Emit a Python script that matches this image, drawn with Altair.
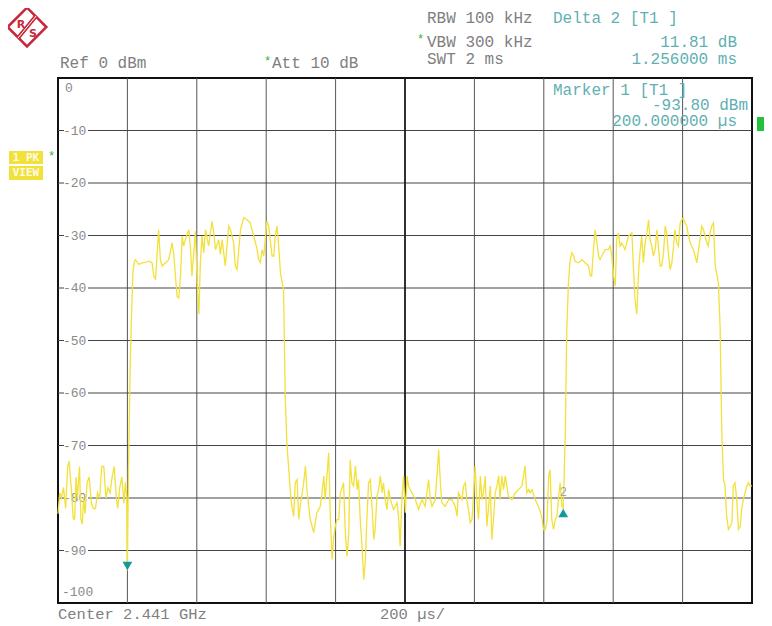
import altair as alt
import pandas as pd

# ---------------- data ----------------
time_us = [
    0, 5, 10, 16, 22, 28, 32, 38, 44, 48, 52, 56, 62, 66, 70, 74, 78, 84, 90, 96,
    102, 108, 114, 120, 126, 132, 138, 144, 150, 156, 162, 168, 172, 178, 184, 190, 194, 198, 200,
    203, 208, 212, 216, 220,
    223, 233, 242, 252, 262, 271, 276, 281, 290, 295, 300, 310, 319, 329, 334, 343, 348, 353, 358, 362,
    367, 377, 382, 386, 396, 401, 406, 410, 415, 420, 425, 434, 444, 449, 454, 463, 468, 473, 482, 492,
    497, 506, 511, 516, 521, 526, 535, 545, 554, 564, 574, 578, 583, 588, 593, 598, 602, 607, 617, 622,
    626, 631, 636, 641, 646, 650, 655, 660, 670, 674, 679, 684, 689, 694, 698, 708, 713, 718, 727, 737,
    746, 756, 761, 766, 770, 775, 780, 785, 790, 794, 799, 804, 809, 814, 823, 828, 833, 838, 842, 847,
    852, 857, 862, 866, 871, 876, 881, 886, 890, 895, 900, 905, 910, 914, 919, 924, 929, 934, 938, 943,
    948, 953, 958, 967, 977, 982, 986, 991, 996,
    1001, 1006, 1010, 1020, 1030, 1039, 1049, 1058, 1068, 1073, 1078, 1087, 1092, 1097, 1102, 1106, 1116,
    1126, 1135, 1145, 1150, 1154, 1164, 1169, 1174, 1178, 1183, 1188, 1193, 1198, 1202, 1207, 1212, 1217,
    1222, 1226, 1231, 1236, 1241, 1246, 1250, 1255, 1260, 1265, 1270, 1274, 1279, 1284, 1289, 1298, 1308,
    1318, 1327, 1337, 1346, 1351, 1356, 1361, 1366, 1375, 1385, 1394, 1399, 1404, 1409, 1414, 1418, 1423,
    1428, 1433, 1438, 1442, 1447, 1452, 1456,
    1462, 1466, 1471, 1476, 1481, 1486,
    1490, 1500, 1510, 1519, 1529, 1534, 1538, 1543, 1548, 1553, 1558, 1562, 1567, 1577, 1586, 1591, 1596,
    1601, 1606, 1610, 1615, 1620, 1625, 1634, 1644, 1654, 1658, 1663, 1668, 1673, 1678, 1682, 1687, 1692,
    1697, 1702, 1706, 1711, 1716, 1721, 1726, 1730, 1735, 1740, 1745, 1750, 1754, 1759, 1764, 1769, 1774,
    1778, 1783, 1788, 1793, 1798, 1802, 1807, 1812, 1817, 1822, 1826, 1831, 1836, 1841, 1846, 1850, 1855,
    1860, 1865, 1870, 1874, 1879, 1884, 1889, 1894, 1898, 1903, 1908, 1913, 1918, 1922, 1927, 1932, 1937,
    1942, 1946, 1951, 1956, 1961, 1966, 1970, 1975, 1980, 1985, 1990, 1994, 2000,
]
level_dbm = [
    -83, -79, -80, -78, -82, -74, -73, -78, -84, -84, -76, -80, -74, -84, -85, -80, -83, -77, -76, -81,
    -82, -82, -79, -80, -74, -74, -80, -78, -79, -76, -74, -80, -82, -78, -76, -81, -77, -80, -93.8,
    -75, -55, -45, -37, -35,
    -34.6, -35.5, -35.2, -35.1, -34.9, -35.2, -37.7, -38.4, -28.9, -34.6, -35.8, -35.2, -34.6, -31.4, -33.9, -41.6, -41.9, -37.7, -30.1, -32.0,
    -30.8, -28.9, -32.7, -37.7, -29.2, -39.0, -45.0, -35.8, -30.1, -33.3, -28.9, -32.0, -27.3, -29.5, -32.7, -30.8, -33.6, -30.8, -35.8, -28.2,
    -28.9, -31.4, -35.8, -36.5, -32.7, -28.9, -26.6, -27.0, -27.6, -30.1, -32.7, -34.6, -35.2, -32.7, -33.9, -30.1, -27.3, -28.2, -33.9, -33.9,
    -30.1, -28.2, -32.0, -37.1, -39.0, -40.3, -61.2, -70.1, -79.0, -81.6, -83.5, -77.1, -76.5, -84.1, -81.6, -77.1, -73.9, -79.0, -84.1, -86.6,
    -82.8, -81.6, -79.0, -75.8, -80.3, -75.8, -71.4, -84.1, -91.7, -87.9, -85.4, -84.1, -84.1, -79.0, -77.1, -86.6, -91.1, -86.6, -72.7, -77.1,
    -77.7, -73.9, -78.4, -76.5, -84.1, -89.2, -95.5, -91.7, -84.1, -77.1, -76.5, -81.6, -87.9, -86.0, -79.7, -78.4, -75.8, -79.0, -77.1, -80.3,
    -82.2, -78.4, -80.3, -82.2, -80.9, -84.1, -89.2, -80.3, -75.8,
    -82.8, -75.8, -77.7, -79.0, -80.3, -82.2, -80.3, -81.6, -76.5, -80.3, -81.6, -80.3, -75.8, -70.8, -77.1, -80.9, -81.6,
    -80.3, -80.3, -81.6, -83.5, -79.0, -80.3, -77.7, -77.1, -80.3, -82.2, -84.7, -84.1, -79.0, -73.9, -80.3, -84.1, -75.8,
    -80.3, -79.0, -75.8, -85.4, -81.6, -77.7, -87.9, -84.1, -79.0, -77.7, -75.8, -80.3, -75.8, -78.4, -75.8, -79.7, -80.3,
    -79.0, -78.4, -77.7, -73.9, -79.0, -78.4, -79.0, -78.4, -80.3, -81.6, -83.5, -86.0, -86.0, -84.7, -75.8, -74.6, -84.1,
    -86.0, -84.1, -83.5, -80.3, -77.1, -81.6, -81.99,
    -67.6, -48.5, -39.0, -34.6, -33.3, -33.9,
    -34.9, -35.2, -34.6, -35.2, -35.8, -37.7, -37.7, -32.7, -28.9, -31.4, -33.9, -34.6, -33.9, -32.7, -32.7, -32.0, -33.9,
    -37.7, -39.6, -30.8, -29.5, -32.0, -31.4, -32.7, -30.1, -29.5, -35.8, -42.2, -45.0, -37.1, -32.7, -30.1, -35.2, -31.4,
    -29.5, -27.0, -30.8, -32.0, -33.9, -32.7, -28.9, -32.0, -35.8, -35.8, -33.3, -28.2, -29.5, -33.3, -36.5, -35.2, -32.0,
    -28.9, -31.4, -32.0, -27.6, -27.0, -26.6, -27.6, -28.2, -30.1, -31.4, -32.0, -32.7, -33.9, -35.2, -32.7, -30.8, -28.2,
    -28.9, -30.1, -31.4, -32.0, -29.5, -28.2, -27.6, -35.8, -37.1, -39.0, -47.3, -67.6, -76.5, -77.7, -83.5, -86.0, -85.4,
    -84.7, -77.7, -77.1, -80.3, -86.0, -85.4, -82.2, -80.3, -79.0, -77.7, -77.1, -77.7, -77.7,
]

grid_time_us = [200, 400, 600, 800, 1200, 1400, 1600, 1800]
center_time_us = [1000]
grid_level = [-10, -20, -30, -40, -50, -60, -70, -80, -90]
tick_values = [-10, -20, -30, -40, -50, -60, -70, -80, -90]
tick_labels = ["-10", "-20", "-30", "-40", "-50", "-60", "-70", "-80", "-90"]
marker_names = ["1", "2"]
marker_time_us = [200, 1456]
marker_level = [-93.80, -81.99]

# ---------------- styling / layout ----------------
W, H = 694, 525
MONO = "Liberation Mono"
GRAY = "#7f7f7f"
TEAL = "#5fb0b2"
GREEN = "#2cb52c"
YELLOW = "#F2E13A"
RED = "#c8283c"

xs = alt.Scale(domain=[0, 2000], nice=False, zero=False)
ys = alt.Scale(domain=[-100, 0], nice=False, zero=False)

trace_df = pd.DataFrame({"t": time_us, "dB": level_dbm})
one = pd.DataFrame({"a": [0]})

vgrid = alt.Chart(pd.DataFrame({"t": grid_time_us})).mark_rule(
    color="#555555", strokeWidth=1
).encode(x=alt.X("t:Q", scale=xs, axis=None))

cgrid = alt.Chart(pd.DataFrame({"t": center_time_us})).mark_rule(
    color="#1a1a1a", strokeWidth=1.8
).encode(x=alt.X("t:Q", scale=xs, axis=None))

hgrid = alt.Chart(pd.DataFrame({"v": grid_level})).mark_rule(
    color="#444444", strokeWidth=1
).encode(y=alt.Y("v:Q", scale=ys, axis=None))

tick_df = pd.DataFrame({"v": tick_values, "lab": tick_labels})
tick_bg = alt.Chart(tick_df).transform_calculate(
    lo="datum.v - 1.1", hi="datum.v + 1.1"
).mark_rect(color="white").encode(
    x=alt.value(6), x2=alt.value(30),
    y=alt.Y("lo:Q", scale=ys, axis=None), y2="hi:Q",
)
tick_txt = alt.Chart(tick_df).mark_text(
    align="left", baseline="middle", font=MONO, fontSize=13, color="#8a8a8a"
).encode(x=alt.value(5), y=alt.Y("v:Q", scale=ys, axis=None), text="lab:N")


def txt(s, x, y, color=GRAY, size=16, align="left", baseline="alphabetic",
        font=MONO, weight="normal"):
    return alt.Chart(one).mark_text(
        text=s, align=align, baseline=baseline, font=font, fontSize=size,
        color=color, fontWeight=weight
    ).encode(x=alt.value(x), y=alt.value(y))


def box(x1, x2, y1, y2, color):
    return alt.Chart(one).mark_rect(color=color).encode(
        x=alt.value(x1), x2=alt.value(x2), y=alt.value(y1), y2=alt.value(y2)
    )


trace = alt.Chart(trace_df).mark_line(
    color=YELLOW, strokeWidth=1.3, interpolate="linear"
).encode(
    x=alt.X("t:Q", scale=xs, axis=None),
    y=alt.Y("dB:Q", scale=ys, axis=None),
    order="t:Q",
)

mk = pd.DataFrame({"name": marker_names, "t": marker_time_us, "dB": marker_level})
m1 = alt.Chart(mk.iloc[[0]]).mark_point(
    shape="triangle-down", filled=True, size=95, color="#14999b", opacity=1, yOffset=-4.5
).encode(x=alt.X("t:Q", scale=xs, axis=None), y=alt.Y("dB:Q", scale=ys, axis=None))
m2 = alt.Chart(mk.iloc[[1]]).mark_point(
    shape="triangle-up", filled=True, size=95, color="#14999b", opacity=1, yOffset=4.5
).encode(x=alt.X("t:Q", scale=xs, axis=None), y=alt.Y("dB:Q", scale=ys, axis=None))
m2lab = alt.Chart(mk.iloc[[1]]).mark_text(
    font=MONO, fontSize=12, color="#98a8a8", dy=-16, baseline="middle"
).encode(x=alt.X("t:Q", scale=xs, axis=None), y=alt.Y("dB:Q", scale=ys, axis=None), text="name:N")

# logo (R&S diamond)
logo = [
    alt.Chart(one).mark_point(shape="diamond", size=1500, filled=False, color=RED,
                              strokeWidth=2.5, opacity=1).encode(x=alt.value(-31), y=alt.value(-51)),
    alt.Chart(one).mark_rule(color=RED, strokeWidth=4).encode(
        x=alt.value(-22), y=alt.value(-62), x2=alt.value(-40), y2=alt.value(-40)),
    alt.Chart(one).mark_rule(color="white", strokeWidth=1).encode(
        x=alt.value(-22), y=alt.value(-62), x2=alt.value(-40), y2=alt.value(-40)),
    txt("R", -37, -50, color=RED, size=11, align="center", font="DejaVu Sans", weight="bold"),
    txt("S", -25, -41, color=RED, size=11, align="center", font="DejaVu Sans", weight="bold"),
]

annotations = [
    txt("Ref  0 dBm", 2, -10),
    txt("*", 206, -13, color=GREEN, size=12),
    txt("Att  10 dB", 214, -10),
    txt("RBW 100 kHz", 369, -55.5),
    txt("*", 359, -35, color=GREEN, size=12),
    txt("VBW 300 kHz", 369, -31),
    txt("SWT 2 ms", 369, -14),
    txt("Delta 2 [T1 ]", 495, -55.5, color=TEAL),
    txt("11.81 dB", 679, -31, color=TEAL, align="right"),
    txt("1.256000 ms", 679, -14, color=TEAL, align="right"),
    txt("Marker 1 [T1 ]", 495, 16.5, color=TEAL),
    txt("-93.80 dBm", 690, 32, color=TEAL, align="right"),
    txt("200.000000 µs", 679, 48, color=TEAL, align="right"),
    txt("Center 2.441 GHz", 0, 541, size=15.5),
    txt("200 µs/", 322, 541, size=15.5),
    txt("0", 7, 10, color="#8a8a8a", size=13, baseline="middle"),
    txt("-100", 4, 514, color="#8a8a8a", size=13, baseline="middle"),
    box(-49, -15, 73, 86, YELLOW),
    box(-49, -15, 88, 102, YELLOW),
    txt("1 PK", -32, 79.5, color="#fffbe6", size=11, align="center", baseline="middle",
        font="DejaVu Sans Mono", weight="bold"),
    txt("VIEW", -32, 95, color="#fffbe6", size=11, align="center", baseline="middle",
        font="DejaVu Sans Mono", weight="bold"),
    txt("*", -10, 82, color=GREEN, size=12),
    box(699, 708, 39, 53, "#22c03c"),
]

chart = alt.layer(
    vgrid, hgrid, cgrid, tick_bg, tick_txt, trace, m1, m2, m2lab, *logo, *annotations
).properties(
    width=W, height=H,
    padding={"left": 50, "top": 70, "right": 12, "bottom": 23},
    autosize=alt.AutoSizeParams(type="none"),
    background="white",
).configure_view(stroke="#111111", strokeWidth=2)

chart.save("out.html", embed_options={"renderer": "svg", "actions": False})
